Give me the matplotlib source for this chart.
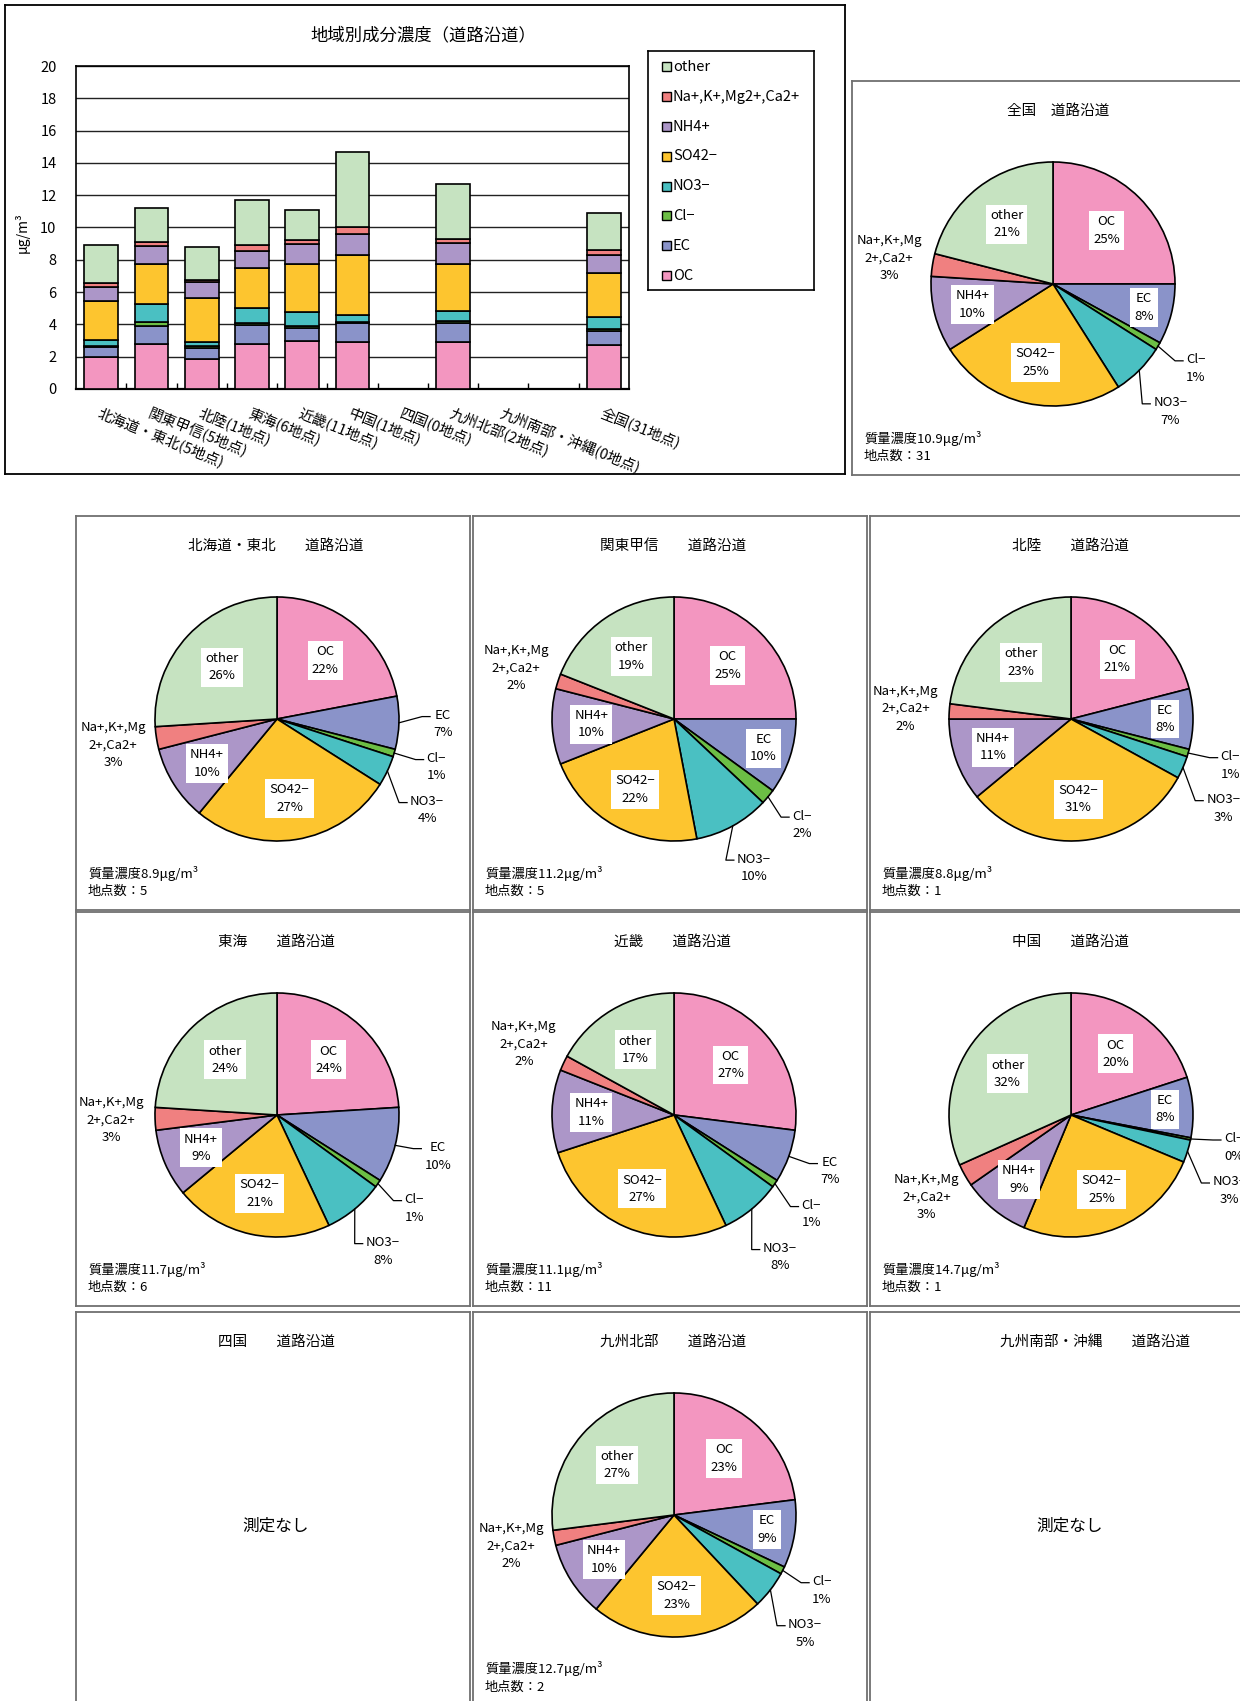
import numpy as np
import matplotlib
matplotlib.use("Agg")
import matplotlib.pyplot as plt
from matplotlib.patches import Rectangle

plt.rcParams["font.family"] = ["Noto Sans CJK JP", "DejaVu Sans"]

W, H = 1240, 1701
DPI = 100

# ---- データ ----
regions = ["北海道・東北", "関東甲信", "北陸", "東海", "近畿", "中国",
           "四国", "九州北部", "九州南部・沖縄", "全国"]
sites = [5, 5, 1, 6, 11, 1, 0, 2, 0, 31]
mass = [8.9, 11.2, 8.8, 11.7, 11.1, 14.7, 0.0, 12.7, 0.0, 10.9]  # μg/m3

# 成分割合 (%)
oc_pct = [22, 25, 21, 24, 27, 20, 0, 23, 0, 25]
ec_pct = [7, 10, 8, 10, 7, 8, 0, 9, 0, 8]
cl_pct = [1, 2, 1, 1, 1, 0.3, 0, 1, 0, 1]
no3_pct = [4, 10, 3, 8, 8, 3, 0, 5, 0, 7]
so4_pct = [27, 22, 31, 21, 27, 25, 0, 23, 0, 25]
nh4_pct = [10, 10, 11, 9, 11, 9, 0, 10, 0, 10]
na_pct = [3, 2, 2, 3, 2, 3, 0, 2, 0, 3]
other_pct = [26, 19, 23, 24, 17, 31.7, 0, 27, 0, 21]

bar_labels = ["北海道・東北(5地点)", "関東甲信(5地点)", "北陸(1地点)", "東海(6地点)",
              "近畿(11地点)", "中国(1地点)", "四国(0地点)", "九州北部(2地点)",
              "九州南部・沖縄(0地点)", "", "全国(31地点)"]

comp_names = ["OC", "EC", "Cl−", "NO3−", "SO42−", "NH4+", "Na+,K+,Mg2+,Ca2+", "other"]
comp_pct = [oc_pct, ec_pct, cl_pct, no3_pct, so4_pct, nh4_pct, na_pct, other_pct]
comp_colors = ["#F396C0", "#8A93C9", "#6CBE45", "#4AC0C2",
               "#FDC52F", "#AC96C8", "#F08080", "#C6E3C1"]

# 円グラフの並び (行ごと)
pie_grid = [["北海道・東北", "関東甲信", "北陸"],
            ["東海", "近畿", "中国"],
            ["四国", "九州北部", "九州南部・沖縄"]]

fig = plt.figure(figsize=(W / DPI, H / DPI), dpi=DPI)


def px_axes(x, y, w, h):
    """ピクセル矩形(左上原点) -> axes"""
    return fig.add_axes([x / W, 1 - (y + h) / H, w / W, h / H])


def fig_text(x, y, s, **kw):
    return fig.text(x / W, 1 - y / H, s, **kw)


# ---- 棒グラフ ----
frame = px_axes(5, 5, 840, 469)
frame.set_xticks([])
frame.set_yticks([])
for sp in frame.spines.values():
    sp.set_color("black")
    sp.set_linewidth(1.3)

ax = px_axes(76, 66, 553, 323)
ax.set_xlim(-0.5, len(bar_labels) - 0.5)
ax.set_ylim(0, 20)
ax.set_yticks(np.arange(0, 21, 2))
ax.yaxis.grid(True, color="#222222", linewidth=1.0)
ax.set_axisbelow(True)
ax.tick_params(axis="y", length=0, pad=14, labelsize=10.5)
ax.set_xticks(range(len(bar_labels)))
ax.set_xticklabels(bar_labels, rotation=-22, ha="left", va="top",
                   rotation_mode="anchor", fontsize=10.5)
ax.tick_params(axis="x", length=0, pad=12)
ax.set_xticks(np.arange(0.5, len(bar_labels) - 1), minor=True)
ax.tick_params(axis="x", which="minor", direction="in", length=4, width=1)
for sp in ax.spines.values():
    sp.set_color("black")
    sp.set_linewidth(1.2)
ax.spines["bottom"].set_linewidth(1.6)

idx = [i for i, m in enumerate(mass) if m > 0]
xpos = [bar_labels.index(f"{regions[i]}({sites[i]}地点)") for i in idx]
bottom = np.zeros(len(idx))
for name, pct, col in zip(comp_names, comp_pct, comp_colors):
    vals = np.array([pct[i] * mass[i] / 100 for i in idx])
    ax.bar(xpos, vals, bottom=bottom, width=0.67, color=col,
           edgecolor="black", linewidth=1.2, zorder=3)
    bottom += vals

fig_text(423, 35, "地域別成分濃度（道路沿道）", ha="center", va="center", fontsize=12.5)
fig_text(22, 233, "μg/m³", ha="center", va="center", rotation=90, fontsize=10)

# 凡例(上から other → OC)
leg = px_axes(648, 51, 166, 239)
leg.set_xlim(0, 166)
leg.set_ylim(239, 0)
leg.set_xticks([])
leg.set_yticks([])
for sp in leg.spines.values():
    sp.set_color("black")
    sp.set_linewidth(1.2)
for k, (name, col) in enumerate(zip(comp_names[::-1], comp_colors[::-1])):
    yy = 16 + k * 29.8
    leg.add_patch(Rectangle((14, yy - 4.5), 9, 9, facecolor=col,
                            edgecolor="black", linewidth=1.0))
    leg.text(25, yy, name, va="center", ha="left", fontsize=10.5)

# ---- 円グラフ ----
PW = 394
R = 122
CX, CY = 201, PW - 203
inside_frac = {"OC": 0.62, "other": 0.62, "SO42−": 0.66, "NH4+": 0.68, "EC": 0.77}
ec_outside = {"北海道・東北", "東海", "近畿"}
title_x = {"全国": 206, "九州南部・沖縄": 225}
pie_names = ["OC", "EC", "Cl−", "NO3−", "SO42−", "NH4+", "Na+,K+,Mg\n2+,Ca2+", "other"]
OUT_DIST = 1.36
MIN_GAP = 43   # 右側の外側ラベル同士の最小縦間隔(px)

leaders = []


def pie_panel(x0, y0, region):
    pax = px_axes(x0, y0, PW, PW)
    i = regions.index(region)
    sep = "　" if region == "全国" else "　　"
    pax.text(title_x.get(region, 200), PW - 30, f"{region}{sep}道路沿道",
             ha="center", va="center", fontsize=10.5)
    if mass[i] > 0:
        vals = [p[i] for p in comp_pct]
        wedges, _ = pax.pie(vals, colors=comp_colors, startangle=90,
                            counterclock=False, center=(CX, CY), radius=R,
                            wedgeprops=dict(edgecolor="black", linewidth=1.2),
                            frame=True)
        prev_y = None
        for w, key, lab, v in zip(wedges, comp_names, pie_names, vals):
            ang = np.deg2rad((w.theta1 + w.theta2) / 2)
            d = np.array([np.cos(ang), np.sin(ang)])
            txt = f"{lab}\n{v:.0f}%"
            inside = key in inside_frac and not (key == "EC" and region in ec_outside)
            if inside:
                px, py = np.array([CX, CY]) + inside_frac[key] * R * d
                pax.text(px, py, txt, ha="center", va="center", fontsize=9.5,
                         linespacing=1.45, zorder=5,
                         bbox=dict(facecolor="white", edgecolor="none", pad=3))
            else:
                px, py = np.array([CX, CY]) + OUT_DIST * R * d
                if d[0] > 0:
                    # 時計回りに並ぶ小さい扇形のラベルを重ならないよう下へずらす
                    if prev_y is not None and py > prev_y - MIN_GAP:
                        py = prev_y - MIN_GAP
                    prev_y = py
                t = pax.text(px, py, txt, ha="center", va="center", fontsize=9.5,
                             linespacing=1.45, zorder=5)
                if d[0] > 0:
                    leaders.append((pax, t, np.array([CX, CY]) + R * d, txt.count("\n") + 1))
        pax.text(12, PW - 357, f"質量濃度{mass[i]}μg/m³", ha="left", va="center", fontsize=9.5)
        pax.text(12, PW - 375, f"地点数：{sites[i]}", ha="left", va="center", fontsize=9.5)
    else:
        pax.text(200, PW - 214, "測定なし", ha="center", va="center", fontsize=12)
    pax.set_xlim(0, PW)
    pax.set_ylim(0, PW)
    pax.set_aspect("auto")
    pax.set_xticks([])
    pax.set_yticks([])
    for sp in pax.spines.values():
        sp.set_color("#707070")
        sp.set_linewidth(1.3)
    return pax


pie_panel(852, 81, "全国")
col_x = [76, 473, 870]
row_y = [516, 912, 1312]
for r, row in enumerate(pie_grid):
    for c, region in enumerate(row):
        pie_panel(col_x[c], row_y[r], region)

# 引き出し線(右側の外側ラベル)
fig.canvas.draw()
renderer = fig.canvas.get_renderer()
for pax, t, p0, nl in leaders:
    bb = t.get_window_extent(renderer).transformed(pax.transData.inverted())
    ay = bb.y1 - bb.height / nl / 2
    ax_ = bb.x0 - 3
    ex = ax_ - 8
    pax.plot([p0[0], ex, ax_], [p0[1], ay, ay], color="black", linewidth=0.9, zorder=4)

fig.savefig("out.png", dpi=DPI)
